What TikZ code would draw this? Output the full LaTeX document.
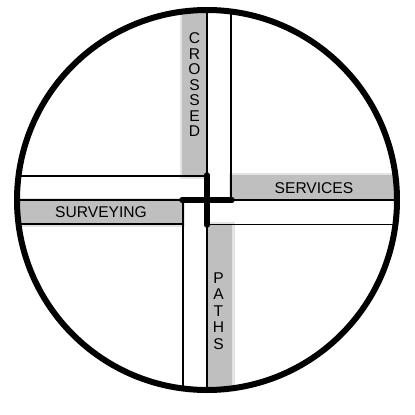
\documentclass[tikz,border=0pt]{standalone}
\usepackage{fontspec}
\setmainfont{Liberation Sans}

\begin{document}
\begin{tikzpicture}[
    x=1pt, y=-1pt,
    band/.style={fill=gray!50},
    fringe/.style={fill=gray!22},
    edge/.style={draw=black, line width=1.8pt},
    hub/.style={draw=black, line width=5.5pt, line cap=round},
    word/.style={font=\fontsize{15.6}{15.5}\selectfont, inner sep=0pt, align=center}
]
    \useasboundingbox (0,0) rectangle (415,415);

    \begin{scope}
        \clip (207,200) circle (190);

        % --- Shadows of the gray bands ---
        \path[fringe] (179.5,0) rectangle (207,178.5);
        \path[fringe] (229,172.5) rectangle (415,200);
        \path[fringe] (207,222) rectangle (234.5,415);
        \path[fringe] (0,197.5) rectangle (184.5,226.5);

        % --- Gray bands ---
        \path[band] (182,0) rectangle (207,176);
        \path[band] (231.5,175) rectangle (415,200);
        \path[band] (207,224.5) rectangle (232,415);
        \path[band] (0,200) rectangle (182,224);

        % --- Edges of the paths ---
        \draw[edge] (231,0) -- (231,200);
        \draw[edge] (207,0) -- (207,175);
        \draw[edge] (232,200) -- (415,200);
        \draw[edge] (207,224.5) -- (415,224.5);
        \draw[edge] (183,200) -- (183,415);
        \draw[edge] (207,225) -- (207,415);
        \draw[edge] (0,176) -- (207,176);
        \draw[edge] (0,200) -- (182,200);
        \draw[edge] (0,224) -- (183,224);
    \end{scope}

    % --- Crossing point ---
    \draw[hub] (207,175) -- (207,225);
    \draw[hub] (182,200) -- (232,200);

    % --- Outer ring ---
    \draw[line width=6pt] (207,200) circle (190);

    % --- Labels ---
    \node[word] (crossed) at (194.5,85) {C\\R\\O\\S\\S\\E\\D};
    \node[word] (services) at (314,188) {SERVICES};
    \node[word] (surveying) at (101,212) {SURVEYING};
    \node[word, font=\fontsize{15.6}{16.5}\selectfont] (paths) at (218.5,311) {P\\A\\T\\H\\S};
\end{tikzpicture}
\end{document}
